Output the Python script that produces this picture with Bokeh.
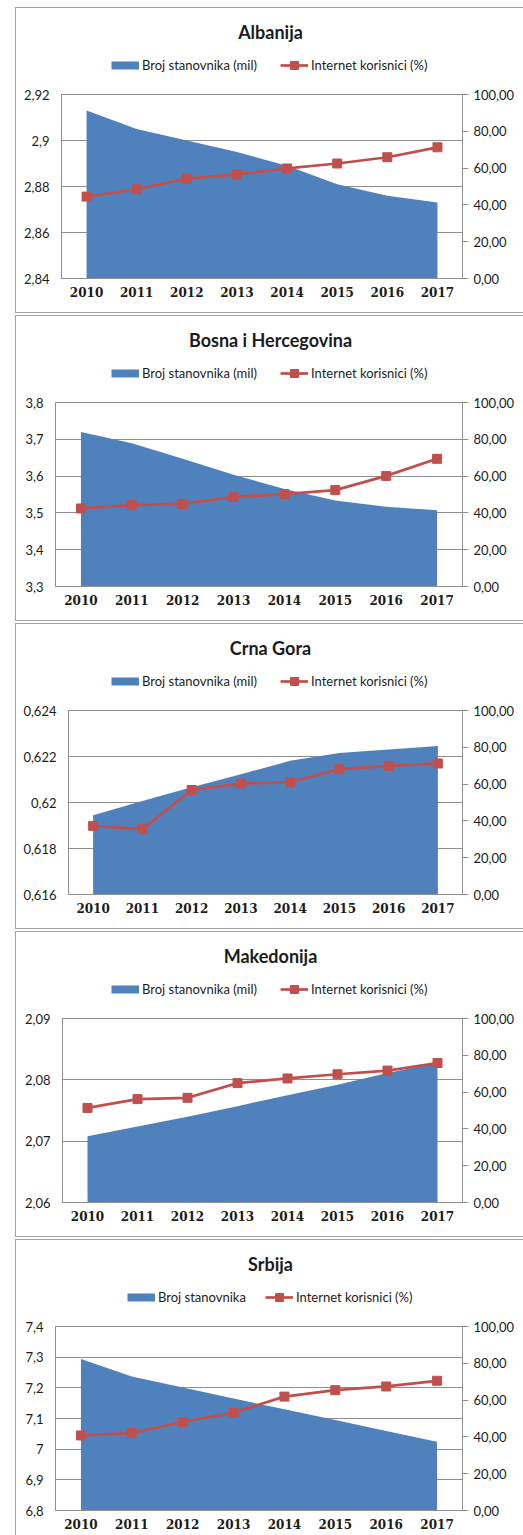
from bokeh.plotting import figure
from bokeh.layouts import column
from bokeh.models import (Range1d, LinearAxis, FixedTicker, CustomJSTickFormatter,
                          Legend, LegendItem, Label)
from bokeh.embed import file_html
from bokeh.resources import INLINE

# ---- data -------------------------------------------------------------
years = [2010, 2011, 2012, 2013, 2014, 2015, 2016, 2017]
pct_ticks = [0, 20, 40, 60, 80, 100]

# population in millions, internet users in % of population
albania_pop = [2.913, 2.905, 2.900, 2.895, 2.889, 2.881, 2.876, 2.873]
albania_net = [44.5, 48.5, 54.3, 56.6, 59.8, 62.5, 65.9, 71.3]
albania_ticks = [2.84, 2.86, 2.88, 2.90, 2.92]

bih_pop = [3.720, 3.689, 3.647, 3.604, 3.565, 3.534, 3.517, 3.507]
bih_net = [42.4, 44.2, 44.9, 48.7, 50.2, 52.4, 60.1, 69.4]
bih_ticks = [3.3, 3.4, 3.5, 3.6, 3.7, 3.8]

mne_pop = [0.61945, 0.62007, 0.62066, 0.62123, 0.62181, 0.62215, 0.62230, 0.62246]
mne_net = [37.3, 35.5, 56.8, 60.3, 61.0, 68.1, 69.9, 71.2]
mne_ticks = [0.616, 0.618, 0.620, 0.622, 0.624]

mkd_pop = [2.0708, 2.0724, 2.0740, 2.0757, 2.0775, 2.0792, 2.0811, 2.0828]
mkd_net = [51.4, 56.2, 56.9, 64.9, 67.4, 69.7, 71.7, 75.8]
mkd_ticks = [2.06, 2.07, 2.08, 2.09]

srb_pop = [7.294, 7.237, 7.201, 7.165, 7.130, 7.095, 7.059, 7.024]
srb_net = [40.8, 42.1, 48.1, 53.2, 61.9, 65.4, 67.4, 70.5]
srb_ticks = [6.8, 6.9, 7.0, 7.1, 7.2, 7.3, 7.4]

pop_label = "Broj stanovnika (mil)"
pop_label_srb = "Broj stanovnika"
net_label = "Internet korisnici (%)"

# ---- styling ----------------------------------------------------------
BLUE = "#4F81BD"
RED = "#C0504D"
GRID = "#8e8e8e"
BORDER = "#a3a3a3"
TEXT = "#1c1c1c"
FONT = "Lato"

PAGE_W = 523
PANEL_X = 15               # left edge of the chart boxes
CONTENT_X = PANEL_X + 1    # first pixel inside a box
CONTENT_W = PAGE_W - CONTENT_X
FRAME_RIGHT = 462          # right edge of every plot area
HEADER_H = 80              # title + legend strip
FRAME_GAP = 6              # space between strip and plot area
FRAME_H = 184
CENTER_X = 270             # horizontal centre of the titles

left_fmt = CustomJSTickFormatter(code="return String(+tick.toFixed(4)).replace('.', ',');")
right_fmt = CustomJSTickFormatter(code="return tick.toFixed(2).replace('.', ',');")


def make_header(name, pop, net, area_label, label_w, frame_left, key_left):
    # the strip's frame is aligned with the chart's frame below it
    h = figure(width=CONTENT_W, height=HEADER_H, output_backend="svg",
               toolbar_location=None, tools="",
               x_range=Range1d(0, 1), y_range=Range1d(0, 1),
               x_axis_type=None, y_axis_type=None, min_border=0,
               min_border_left=frame_left - CONTENT_X,
               min_border_right=PAGE_W - FRAME_RIGHT,
               outline_line_color=None,
               background_fill_color="white", border_fill_color="white")

    # legend keys: the series drawn out of this strip's view, used only by the legend
    key_area = h.line(x=years, y=pop, line_color=BLUE, line_width=8, line_cap="butt")
    key_line = h.line(x=years, y=net, line_color=RED, line_width=2.75)
    key_mark = h.scatter(x=years, y=net, marker="square", size=9,
                         fill_color=RED, line_color=RED)

    legend = Legend(items=[LegendItem(label=area_label, renderers=[key_area]),
                           LegendItem(label=net_label, renderers=[key_line, key_mark])],
                    location=(key_left - frame_left, HEADER_H - 57 - 10),
                    orientation="horizontal", glyph_width=28, glyph_height=20,
                    label_height=20, label_width=label_w, label_standoff=3,
                    padding=0, margin=0, spacing=16,
                    border_line_alpha=0, background_fill_alpha=0,
                    label_text_font=FONT, label_text_font_size="13px",
                    label_text_color=TEXT)
    h.add_layout(legend)

    h.add_layout(Label(x=CENTER_X - frame_left, y=HEADER_H - 23,
                       x_units="screen", y_units="screen", text=name,
                       text_align="center", text_baseline="middle",
                       text_font=FONT, text_font_style="bold",
                       text_font_size="18px", text_color=TEXT))
    return h


def make_chart(pop, net, ticks, frame_left, height):
    p = figure(width=CONTENT_W, height=height, output_backend="svg",
               toolbar_location=None, tools="",
               x_range=Range1d(2009.5, 2017.5),
               y_range=Range1d(ticks[0], ticks[-1]),
               min_border_left=frame_left - CONTENT_X,
               min_border_right=PAGE_W - FRAME_RIGHT,
               min_border_top=FRAME_GAP,
               min_border_bottom=height - FRAME_GAP - FRAME_H,
               background_fill_color="white", border_fill_color="white",
               outline_line_color=GRID, outline_line_width=1)
    p.extra_y_ranges = {"pct": Range1d(pct_ticks[0], pct_ticks[-1])}

    # left axis: population
    ax = p.left[0]
    ax.ticker = FixedTicker(ticks=ticks)
    ax.formatter = left_fmt
    ax.axis_line_color = GRID
    ax.major_tick_out = 0
    ax.major_tick_in = 0
    ax.minor_tick_out = 0
    ax.minor_tick_in = 0
    ax.major_label_standoff = 12
    ax.major_label_text_font = FONT
    ax.major_label_text_font_size = "13px"
    ax.major_label_text_color = TEXT

    # bottom axis: years
    bx = p.below[0]
    bx.ticker = FixedTicker(ticks=years)
    bx.axis_line_color = GRID
    bx.major_tick_out = 0
    bx.major_tick_in = 0
    bx.minor_tick_out = 0
    bx.minor_tick_in = 0
    bx.major_label_standoff = 8
    bx.major_label_text_font = "DejaVu Serif"
    bx.major_label_text_font_style = "bold"
    bx.major_label_text_font_size = "12px"
    bx.major_label_text_color = TEXT

    # right axis: internet users
    rx = LinearAxis(y_range_name="pct", ticker=FixedTicker(ticks=pct_ticks),
                    formatter=right_fmt)
    rx.axis_line_color = GRID
    rx.major_tick_line_color = GRID
    rx.major_tick_out = 6
    rx.major_tick_in = 0
    rx.minor_tick_out = 0
    rx.minor_tick_in = 0
    rx.major_label_standoff = 5
    rx.major_label_text_font = FONT
    rx.major_label_text_font_size = "13px"
    rx.major_label_text_color = TEXT
    p.add_layout(rx, "right")

    p.xgrid.visible = False
    p.ygrid.ticker = FixedTicker(ticks=ticks)
    p.ygrid.grid_line_color = GRID

    # population area
    p.varea(x=years, y1=ticks[0], y2=pop, fill_color=BLUE, fill_alpha=1)

    # internet users line with square markers
    p.line(x=years, y=net, y_range_name="pct", line_color=RED, line_width=2.75)
    p.scatter(x=years, y=net, y_range_name="pct", marker="square", size=9,
              fill_color=RED, line_color=RED)
    return p


def make_panel(name, pop, net, ticks, area_label, label_w, frame_left, key_left,
               height, bottom_border=True):
    header = make_header(name, pop, net, area_label, label_w, frame_left, key_left)
    chart = make_chart(pop, net, ticks, frame_left, height - HEADER_H)
    border = f"1px solid {BORDER}"
    st = {"border-left": border, "border-top": border, "border-right": "none"}
    st["border-bottom"] = border if bottom_border else "none"
    return column(header, chart, spacing=0, styles=st)


panels = [
    make_panel("Albanija", albania_pop, albania_net, albania_ticks,
               pop_label, 122, 61, 111, 304),
    make_panel("Bosna i Hercegovina", bih_pop, bih_net, bih_ticks,
               pop_label, 122, 55, 111, 304),
    make_panel("Crna Gora", mne_pop, mne_net, mne_ticks,
               pop_label, 122, 68, 111, 304),
    make_panel("Makedonija", mkd_pop, mkd_net, mkd_ticks,
               pop_label, 122, 62, 111, 304),
    make_panel("Srbija", srb_pop, srb_net, srb_ticks,
               pop_label_srb, 91, 55, 127, 295, bottom_border=False),
]

page = column(*panels, spacing=2, margin=(7, 0, 0, PANEL_X))

open("out.html", "w").write(file_html(page, INLINE))
